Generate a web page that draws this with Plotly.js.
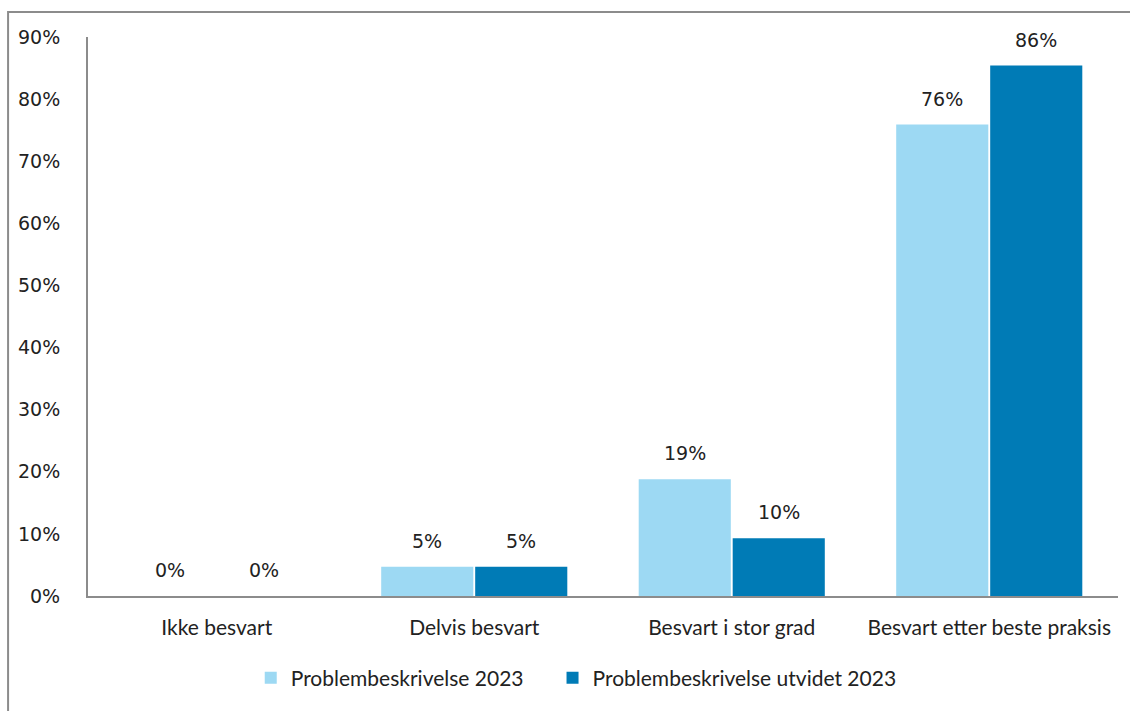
<!DOCTYPE html>
<html><head><meta charset="utf-8">
<script src="https://cdn.plot.ly/plotly-3.0.1.min.js"></script>
<style>html,body{margin:0;padding:0;background:#fff;}#chart{width:1130px;height:711px;}</style>
</head><body><div id="chart"></div>
<script>
const categories = ["Ikke besvart", "Delvis besvart", "Besvart i stor grad", "Besvart etter beste praksis"];
const series1Name = "Problembeskrivelse 2023";
const series2Name = "Problembeskrivelse utvidet 2023";
const series1Values = [0, 4.7, 18.8, 75.9];
const series2Values = [0, 4.7, 9.3, 85.4];
const series1Labels = ["0%", "5%", "19%", "76%"];
const series2Labels = ["0%", "5%", "10%", "86%"];
const yTickVals = [0,10,20,30,40,50,60,70,80,90];
const yTickText = ["0%","10%","20%","30%","40%","50%","60%","70%","80%","90%"];

const labelFont = {family: "DejaVu Sans", size: 19, color: "#222"};
const traces = [
  {type: "bar", name: series1Name, x: categories, y: series1Values, hoverinfo: "skip",
   legend: "legend", marker: {color: "#9DD9F3", line: {width: 0}}},
  {type: "bar", name: series2Name, x: categories, y: series2Values, hoverinfo: "skip",
   legend: "legend2", marker: {color: "#007BB6", line: {width: 0}}}
];
const annotations = [];
[[series1Values, series1Labels, -47], [series2Values, series2Labels, 47]].forEach(([vals, labs, dx]) => {
  categories.forEach((c, i) => {
    annotations.push({x: c, y: vals[i], xref: "x", yref: "y", text: labs[i], showarrow: false,
      xshift: dx, yshift: 26, yanchor: "middle", xanchor: "center", font: labelFont});
  });
});
const legendBase = {orientation: "h", xanchor: "left", y: -0.147, yanchor: "middle",
  font: {family: "Lato", size: 21, color: "#222"}, itemwidth: 30, bgcolor: "rgba(0,0,0,0)"};
const layout = {
  width: 1130, height: 711,
  margin: {l: 88, r: 12, t: 37, b: 113},
  paper_bgcolor: "#fff", plot_bgcolor: "#fff",
  barmode: "group", bargap: 0.27, bargroupgap: 0.02,
  showlegend: true,
  legend: Object.assign({}, legendBase, {x: 0.158}),
  legend2: Object.assign({}, legendBase, {x: 0.451}),
  xaxis: {showline: true, linecolor: "#8c8c8c", linewidth: 2, ticks: "", showgrid: false,
          tickfont: {family: "Lato", size: 21, color: "#222"}, ticklabelstandoff: 12},
  yaxis: {range: [0, 90], showline: true, linecolor: "#8c8c8c", linewidth: 2, showgrid: false,
          zeroline: false, ticks: "", tickvals: yTickVals, ticktext: yTickText,
          tickfont: {family: "DejaVu Sans", size: 19, color: "#222"}, ticklabelstandoff: 22},
  annotations: annotations,
  shapes: [{type: "rect", xref: "paper", yref: "paper", x0: -0.0776, x1: 1.05, y0: -0.3, y1: 1.0447,
            line: {color: "#8c8c8c", width: 2}, fillcolor: "rgba(0,0,0,0)", layer: "below"}],
  font: {family: "DejaVu Sans"}
};
Plotly.newPlot("chart", traces, layout, {displayModeBar: false, staticPlot: true});
</script></body></html>
